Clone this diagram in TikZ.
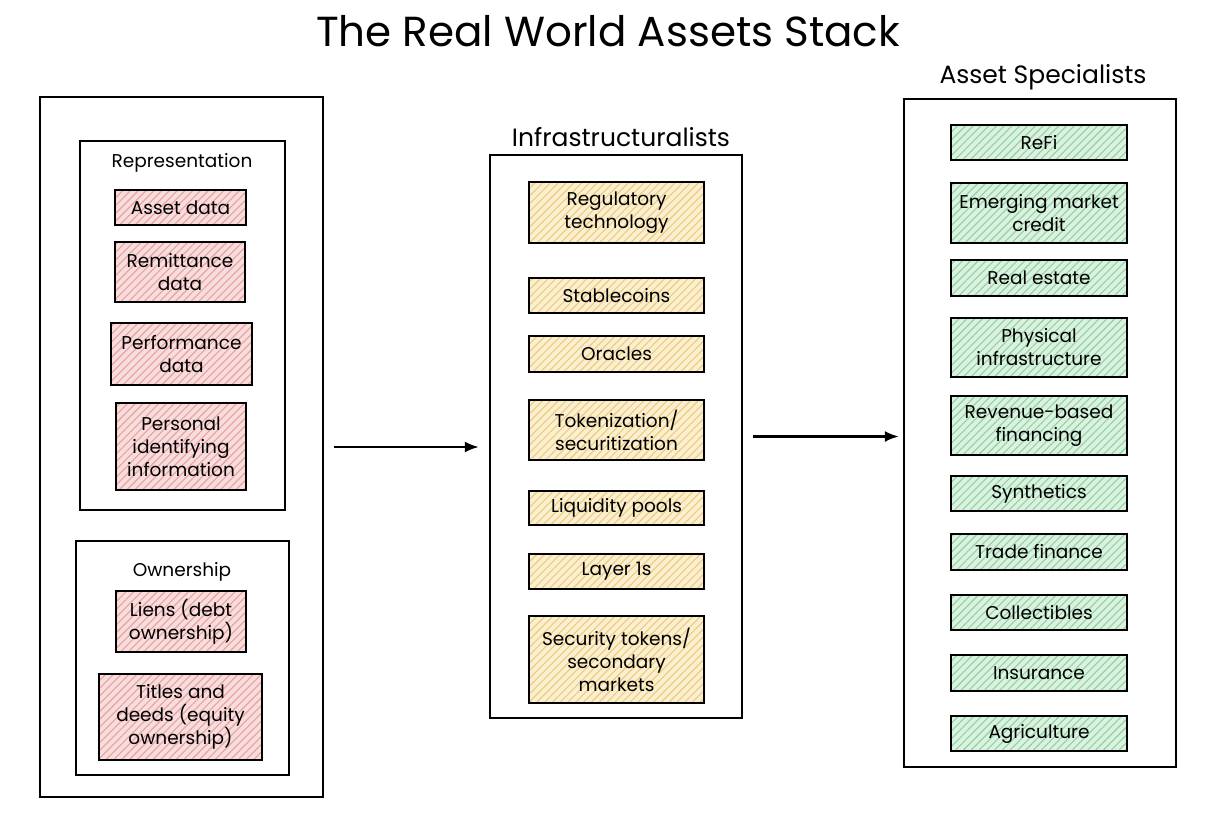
\documentclass[tikz,border=0pt]{standalone}
\usepackage{fontspec}
\setmainfont{Poppins}
\usetikzlibrary{patterns.meta,arrows.meta}
\definecolor{pinkbg}{HTML}{F8DDDD}
\definecolor{pinkln}{HTML}{E9A0A0}
\definecolor{yelbg}{HTML}{FBEFD2}
\definecolor{yelln}{HTML}{EECB78}
\definecolor{grnbg}{HTML}{DBF2E0}
\definecolor{grnln}{HTML}{92D0A2}
\begin{document}
\begin{tikzpicture}[x=1pt,y=-1pt,
  frame/.style={draw=black,line width=2.3pt,rectangle,inner sep=0pt},
  item/.style={draw=black,line width=1.7pt,rectangle,inner sep=1pt,align=center,
     font=\fontsize{18.5}{23}\selectfont},
  hatch/.style={pattern={Lines[angle=45,distance=5.5pt,line width=1.1pt]}},
  pinkbox/.style={item,preaction={fill=pinkbg},hatch,pattern color=pinkln},
  yelbox/.style={item,preaction={fill=yelbg},hatch,pattern color=yelln},
  grnbox/.style={item,preaction={fill=grnbg},hatch,pattern color=grnln},
  head/.style={font=\fontsize{25}{28}\selectfont,inner sep=0pt},
  sub/.style={font=\fontsize{18.5}{22}\selectfont,inner sep=0pt},
  arr/.style={line width=2.3pt,-{Latex[length=14pt,width=11pt]}}]
\useasboundingbox[fill=white] (0,0) rectangle (1222,819);

\node[font=\fontsize{42}{46}\selectfont,inner sep=0pt] (title) at (608,31) {The Real World Assets Stack};

% left column
\node[frame,minimum width=283pt,minimum height=700pt] (left) at (181.5,447) {};
\node[frame,line width=2pt,minimum width=205pt,minimum height=369pt] (repr) at (182.5,325.5) {};
\node[sub] (reprl) at (182,163) {Representation};
\node[pinkbox,minimum width=131pt,minimum height=35pt] (ad) at (180.5,207.5) {Asset data};
\node[pinkbox,minimum width=130pt,minimum height=60pt] (rd) at (180,272) {Remittance\\data};
\node[pinkbox,minimum width=141pt,minimum height=62pt] (pd) at (181.5,354) {Performance\\data};
\node[pinkbox,minimum width=130pt,minimum height=87pt] (pii) at (181,446.5) {Personal\\identifying\\information};
\node[frame,line width=2pt,minimum width=213pt,minimum height=234pt] (own) at (182.5,658) {};
\node[sub] (ownl) at (182,572) {Ownership};
\node[pinkbox,minimum width=130pt,minimum height=61pt] (liens) at (181,621.5) {Liens (debt\\ownership)};
\node[pinkbox,minimum width=163pt,minimum height=86pt] (titles) at (180.5,717) {Titles and\\deeds (equity\\ownership)};

% middle column
\node[frame,minimum width=252pt,minimum height=563pt] (mid) at (616,436.5) {};
\node[head] (midl) at (621,137) {Infrastructuralists};
\node[yelbox,minimum width=175pt,minimum height=61pt] (reg) at (616.5,212.5) {Regulatory\\technology};
\node[yelbox,minimum width=175pt,minimum height=35pt] (stab) at (616.5,295.5) {Stablecoins};
\node[yelbox,minimum width=175pt,minimum height=36pt] (orac) at (616.5,354) {Oracles};
\node[yelbox,minimum width=175pt,minimum height=60pt] (tok) at (616.5,430) {Tokenization/\\securitization};
\node[yelbox,minimum width=175pt,minimum height=34pt] (liq) at (616.5,508) {Liquidity pools};
\node[yelbox,minimum width=175pt,minimum height=35pt] (lay) at (616.5,571.5) {Layer 1s};
\node[yelbox,minimum width=175pt,minimum height=87pt] (sec) at (616.5,659.5) {Security tokens/\\secondary\\markets};

% right column
\node[frame,minimum width=272pt,minimum height=668pt] (right) at (1040,433) {};
\node[head] (rightl) at (1043,77) {Asset Specialists};
\node[grnbox,minimum width=176pt,minimum height=35pt] (refi) at (1039,142.5) {ReFi};
\node[grnbox,minimum width=176pt,minimum height=60pt] (emc) at (1039,213) {Emerging market\\credit};
\node[grnbox,minimum width=176pt,minimum height=36pt] (re) at (1039,278) {Real estate};
\node[grnbox,minimum width=176pt,minimum height=59pt] (phys) at (1039,347.5) {Physical\\infrastructure};
\node[grnbox,minimum width=176pt,minimum height=59pt] (rev) at (1039,425.5) {Revenue-based\\financing};
\node[grnbox,minimum width=176pt,minimum height=35pt] (syn) at (1039,493.5) {Synthetics};
\node[grnbox,minimum width=176pt,minimum height=36pt] (trade) at (1039,552) {Trade finance};
\node[grnbox,minimum width=176pt,minimum height=35pt] (coll) at (1039,612.5) {Collectibles};
\node[grnbox,minimum width=176pt,minimum height=36pt] (ins) at (1039,673) {Insurance};
\node[grnbox,minimum width=176pt,minimum height=35pt] (agr) at (1039,733.5) {Agriculture};

% connectors
\draw[arr,shorten <=10pt,shorten >=10pt] (left.east) -- (mid.west |- left.east);
\draw[arr,shorten <=10pt,shorten >=4pt] (mid.east) -- (right.west |- mid.east);
\end{tikzpicture}
\end{document}
